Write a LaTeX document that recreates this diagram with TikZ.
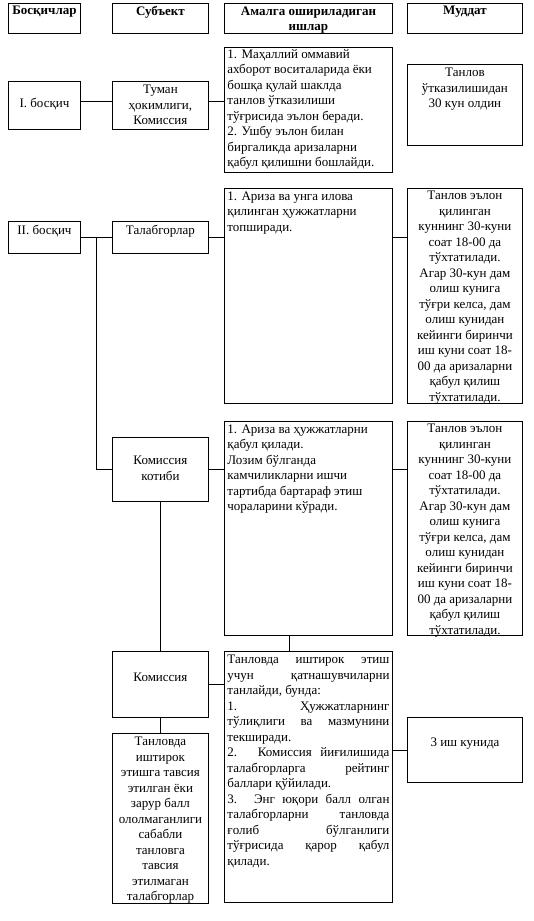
\documentclass[tikz,border=0pt]{standalone}
\usepackage{fontspec}
\setmainfont{Liberation Serif}
\usepackage{tikz}
\usetikzlibrary{calc}

% box with its text at the top: name, x, y, width, height, top pad, alignment, text
\newcommand{\cell}[8]{%
\node[cellbox] (#1) at (#2,#3) {\parbox[c][#5pt][t]{#4pt}{\vspace*{#6pt}#7\advance\leftskip 3pt\advance\rightskip 3pt #8\par}};}
\newcommand{\ctr}{\centering}
\newcommand{\lft}{\raggedright}
\newcommand{\jst}{\leftskip=0pt\rightskip=0pt}

\begin{document}
\begin{tikzpicture}[x=1pt,y=-1pt,
  cellbox/.style={draw,line width=0.9pt,inner sep=0pt,anchor=north west,font=\fontsize{13}{15.5}\selectfont}]
\useasboundingbox (0,0) rectangle (534,921);

\cell{hd1}{8}{3}{72}{30}{3}{\ctr}{\textbf{Босқичлар}}
\cell{hd2}{112}{3}{96}{30}{3}{\ctr}{\textbf{Субъект}}
\cell{hd3}{224}{3}{168}{30}{3}{\ctr}{\textbf{Амалга ошириладиган\\ ишлар}}
\cell{hd4}{407}{3}{115}{30}{3}{\ctr}{\textbf{Муддат}}

\cell{st1}{8}{81}{72}{48}{17}{\ctr}{I. босқич}
\cell{sub1}{112}{81}{96}{48}{4}{\ctr}{Туман\\ ҳокимлиги,\\ Комиссия}
\cell{amal1}{224}{47}{168}{125}{2}{\lft}{1. Маҳаллий оммавий\\ ахборот воситаларида ёки\\ бошқа қулай шаклда\\ танлов ўтказилиши\\ тўғрисида эълон беради.\\ 2. Ушбу эълон билан\\ биргаликда аризаларни\\ қабул қилишни бошлайди.}
\cell{mud1}{407}{64}{115}{81}{4}{\ctr}{Танлов\\ ўтказилишидан\\ 30 кун олдин}

\cell{st2}{8}{221}{72}{32}{4}{\ctr}{II. босқич}
\cell{sub2}{112}{221}{96}{32}{4}{\ctr}{Талабгорлар}
\cell{amal2}{224}{188}{168}{215}{3}{\lft}{1. Ариза ва унга илова\\ қилинган ҳужжатларни\\ топширади.}
\cell{mud2}{407}{188}{115}{215}{3}{\ctr}{Танлов эълон\\ қилинган\\ куннинг 30-куни\\ соат 18-00 да\\ тўхтатилади.\\ Агар 30-кун дам\\ олиш кунига\\ тўғри келса, дам\\ олиш кунидан\\ кейинги биринчи\\ иш куни соат 18-\\ 00 да аризаларни\\ қабул қилиш\\ тўхтатилади.}

\cell{kot}{112}{437}{96}{64}{19}{\ctr}{Комиссия\\ котиби}
\cell{amal3}{224}{421}{168}{214}{3}{\lft}{1. Ариза ва ҳужжатларни\\ қабул қилади.\\ Лозим бўлганда\\ камчиликларни ишчи\\ тартибда бартараф этиш\\ чораларини кўради.}
\cell{mud3}{407}{421}{115}{214}{3}{\ctr}{Танлов эълон\\ қилинган\\ куннинг 30-куни\\ соат 18-00 да\\ тўхтатилади.\\ Агар 30-кун дам\\ олиш кунига\\ тўғри келса, дам\\ олиш кунидан\\ кейинги биринчи\\ иш куни соат 18-\\ 00 да аризаларни\\ қабул қилиш\\ тўхтатилади.}

\cell{kom}{112}{651}{96}{66}{22}{\ctr}{Комиссия}
\cell{amal4}{224}{651}{168}{251}{4}{\jst}{Танловда иштирок этиш\linebreak учун қатнашувчиларни\linebreak танлайди, бунда:\\ 1. Ҳужжатларнинг\linebreak тўлиқлиги ва мазмунини\linebreak текширади.\\ 2. Комиссия йиғилишида\linebreak талабгорларга рейтинг\linebreak баллари қўйилади.\\ 3. Энг юқори балл олган\linebreak талабгорларни танловда\linebreak ғолиб бўлганлиги\linebreak тўғрисида қарор қабул\linebreak қилади.}
\cell{mud4}{407}{717}{115}{65}{20}{\ctr}{3 иш кунида}
\cell{rad}{112}{733}{96}{170}{4}{\ctr}{Танловда\\ иштирок\\ этишга тавсия\\ этилган ёки\\ зарур балл\\ ололмаганлиги\\ сабабли\\ танловга\\ тавсия\\ этилмаган\\ талабгорлар}

\coordinate (r1) at (0,101);
\coordinate (jn) at (96,237);
\coordinate (am) at (289,0);

\draw[line width=0.9pt] (st1.east |- r1) -- (sub1.west |- r1);
\draw[line width=0.9pt] (sub1.east |- r1) -- (amal1.west |- r1);

\draw[line width=0.9pt] (st2.east) -- (sub2.west);
\draw[line width=0.9pt] (sub2.east) -- (amal2.west |- sub2.east);
\draw[line width=0.9pt] (amal2.east |- sub2.east) -- (mud2.west |- sub2.east);
\draw[line width=0.9pt] (jn) |- (kot.west);

\draw[line width=0.9pt] (kot.east) -- (amal3.west |- kot.east);
\draw[line width=0.9pt] (amal3.east |- kot.east) -- (mud3.west |- kot.east);
\draw[line width=0.9pt] (kot.south) -- (kom.north);
\draw[line width=0.9pt] (amal3.south -| am) -- (amal4.north -| am);

\draw[line width=0.9pt] (kom.east) -- (amal4.west |- kom.east);
\draw[line width=0.9pt] (kom.south) -- (rad.north);
\draw[line width=0.9pt] (amal4.east |- mud4.west) -- (mud4.west);
\end{tikzpicture}
\end{document}
